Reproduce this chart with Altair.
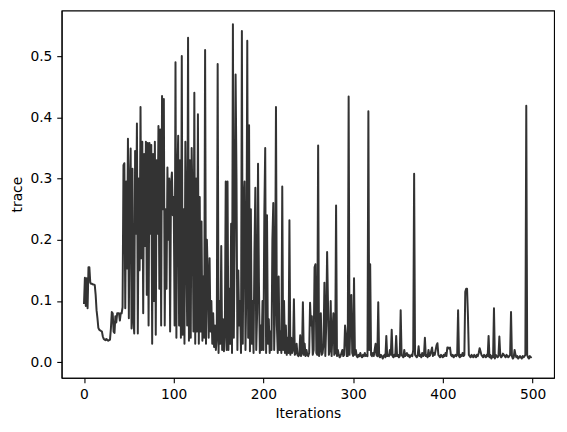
import altair as alt
import pandas as pd

# trace values, iterations 0-99, 100-199, ... 400-499
trace_000 = [
    0.095, 0.138, 0.092, 0.137, 0.088, 0.155, 0.155, 0.130, 0.128, 0.128,
    0.127, 0.127, 0.126, 0.110, 0.085, 0.072, 0.056, 0.053, 0.052, 0.051,
    0.050, 0.042, 0.038, 0.037, 0.036, 0.038, 0.036, 0.035, 0.036, 0.037,
    0.055, 0.082, 0.080, 0.050, 0.048, 0.075, 0.065, 0.080, 0.080, 0.080,
    0.068, 0.080, 0.080, 0.090, 0.322, 0.325, 0.088, 0.295, 0.153, 0.365,
    0.072, 0.290, 0.349, 0.055, 0.316, 0.070, 0.047, 0.345, 0.210, 0.390,
    0.047, 0.300, 0.150, 0.417, 0.170, 0.360, 0.080, 0.340, 0.190, 0.360,
    0.110, 0.358, 0.060, 0.358, 0.210, 0.355, 0.030, 0.340, 0.100, 0.360,
    0.045, 0.330, 0.210, 0.386, 0.120, 0.380, 0.060, 0.435, 0.250, 0.430,
    0.060, 0.250, 0.120, 0.318, 0.200, 0.300, 0.050, 0.290, 0.310, 0.240,
]
trace_100 = [
    0.270, 0.060, 0.490, 0.040, 0.300, 0.370, 0.060, 0.330, 0.040, 0.500,
    0.045, 0.250, 0.030, 0.360, 0.200, 0.060, 0.530, 0.035, 0.330, 0.040,
    0.350, 0.260, 0.050, 0.440, 0.030, 0.300, 0.050, 0.405, 0.030, 0.270,
    0.050, 0.230, 0.035, 0.140, 0.040, 0.510, 0.030, 0.200, 0.140, 0.040,
    0.170, 0.050, 0.100, 0.030, 0.080, 0.025, 0.060, 0.020, 0.040, 0.487,
    0.015, 0.100, 0.030, 0.190, 0.020, 0.070, 0.018, 0.050, 0.295, 0.020,
    0.295, 0.020, 0.120, 0.030, 0.226, 0.015, 0.552, 0.040, 0.200, 0.470,
    0.300, 0.020, 0.150, 0.060, 0.100, 0.015, 0.541, 0.030, 0.260, 0.295,
    0.020, 0.120, 0.525, 0.040, 0.387, 0.018, 0.250, 0.030, 0.100, 0.015,
    0.180, 0.285, 0.020, 0.080, 0.324, 0.130, 0.015, 0.060, 0.020, 0.100,
]
trace_200 = [
    0.020, 0.240, 0.350, 0.015, 0.240, 0.030, 0.070, 0.015, 0.050, 0.020,
    0.200, 0.260, 0.020, 0.100, 0.417, 0.060, 0.015, 0.140, 0.020, 0.050,
    0.015, 0.287, 0.020, 0.100, 0.015, 0.060, 0.012, 0.040, 0.015, 0.232,
    0.012, 0.040, 0.015, 0.020, 0.103, 0.012, 0.015, 0.030, 0.012, 0.010,
    0.012, 0.044, 0.010, 0.015, 0.098, 0.012, 0.030, 0.010, 0.020, 0.012,
    0.010, 0.015, 0.097, 0.060, 0.075, 0.012, 0.020, 0.155, 0.160, 0.015,
    0.012, 0.354, 0.010, 0.020, 0.080, 0.012, 0.015, 0.030, 0.130, 0.010,
    0.060, 0.180, 0.095, 0.012, 0.020, 0.100, 0.010, 0.050, 0.080, 0.012,
    0.015, 0.256, 0.010, 0.020, 0.012, 0.008, 0.010, 0.015, 0.020, 0.010,
    0.012, 0.060, 0.045, 0.010, 0.010, 0.434, 0.012, 0.070, 0.110, 0.015,
]
trace_300 = [
    0.010, 0.137, 0.012, 0.020, 0.010, 0.008, 0.012, 0.010, 0.015, 0.010,
    0.008, 0.012, 0.010, 0.015, 0.010, 0.012, 0.010, 0.410, 0.020, 0.160,
    0.012, 0.010, 0.015, 0.010, 0.020, 0.030, 0.012, 0.010, 0.098, 0.010,
    0.008, 0.012, 0.010, 0.006, 0.010, 0.012, 0.008, 0.043, 0.010, 0.012,
    0.010, 0.020, 0.012, 0.053, 0.010, 0.008, 0.012, 0.010, 0.043, 0.010,
    0.012, 0.008, 0.010, 0.085, 0.012, 0.010, 0.008, 0.020, 0.010, 0.012,
    0.015, 0.010, 0.012, 0.008, 0.010, 0.012, 0.010, 0.020, 0.308, 0.012,
    0.010, 0.008, 0.012, 0.026, 0.010, 0.012, 0.008, 0.015, 0.010, 0.012,
    0.040, 0.010, 0.012, 0.008, 0.020, 0.010, 0.012, 0.018, 0.024, 0.010,
    0.015, 0.012, 0.020, 0.028, 0.031, 0.012, 0.010, 0.008, 0.012, 0.010,
]
trace_400 = [
    0.008, 0.012, 0.010, 0.015, 0.010, 0.024, 0.024, 0.022, 0.024, 0.012,
    0.010, 0.012, 0.008, 0.010, 0.012, 0.010, 0.012, 0.085, 0.010, 0.008,
    0.012, 0.010, 0.015, 0.010, 0.012, 0.115, 0.120, 0.120, 0.075, 0.012,
    0.010, 0.008, 0.012, 0.010, 0.008, 0.012, 0.010, 0.008, 0.012, 0.010,
    0.015, 0.023, 0.018, 0.012, 0.010, 0.008, 0.012, 0.010, 0.008, 0.012,
    0.010, 0.043, 0.008, 0.012, 0.006, 0.010, 0.008, 0.088, 0.006, 0.012,
    0.010, 0.008, 0.010, 0.042, 0.012, 0.008, 0.010, 0.014, 0.012, 0.010,
    0.008, 0.012, 0.010, 0.008, 0.010, 0.012, 0.082, 0.010, 0.006, 0.008,
    0.020, 0.012, 0.008, 0.010, 0.006, 0.008, 0.010, 0.008, 0.006, 0.010,
    0.008, 0.010, 0.012, 0.419, 0.012, 0.008, 0.006, 0.010, 0.008, 0.009,
]

x_ticks = [0, 100, 200, 300, 400, 500]
y_ticks = [0.0, 0.1, 0.2, 0.3, 0.4, 0.5]

trace = trace_000 + trace_100 + trace_200 + trace_300 + trace_400
df = pd.DataFrame({"Iterations": list(range(len(trace))), "trace": trace})

FONT = "DejaVu Sans"

chart = (
    alt.Chart(df)
    .mark_line(color="#333333", strokeWidth=2.0, strokeJoin="round")
    .encode(
        x=alt.X(
            "Iterations:Q",
            title="Iterations",
            scale=alt.Scale(domain=[-24.95, 523.95], nice=False, zero=False),
            axis=alt.Axis(values=x_ticks, format="d", titlePadding=5),
        ),
        y=alt.Y(
            "trace:Q",
            title="trace",
            scale=alt.Scale(domain=[-0.0255, 0.5745], nice=False, zero=False),
            axis=alt.Axis(values=y_ticks, format=".1f", titlePadding=6),
        ),
    )
    .properties(
        width=496,
        height=370,
        autosize=alt.AutoSizeParams(type="none"),
        padding={"left": 54, "top": 1, "right": 5, "bottom": 45},
        background="white",
    )
    .configure_view(stroke="black", strokeWidth=1.1)
    .configure_axis(
        grid=False,
        labelFont=FONT,
        titleFont=FONT,
        labelFontSize=13.9,
        titleFontSize=13.9,
        titleFontWeight="normal",
        labelColor="black",
        titleColor="black",
        domainColor="black",
        domainWidth=1.1,
        tickColor="black",
        tickWidth=1.1,
        tickSize=4.9,
        labelPadding=4.9,
        labelFlush=False,
        labelOverlap=False,
    )
)

chart.save("out.html", embed_options={"renderer": "svg", "actions": False})
